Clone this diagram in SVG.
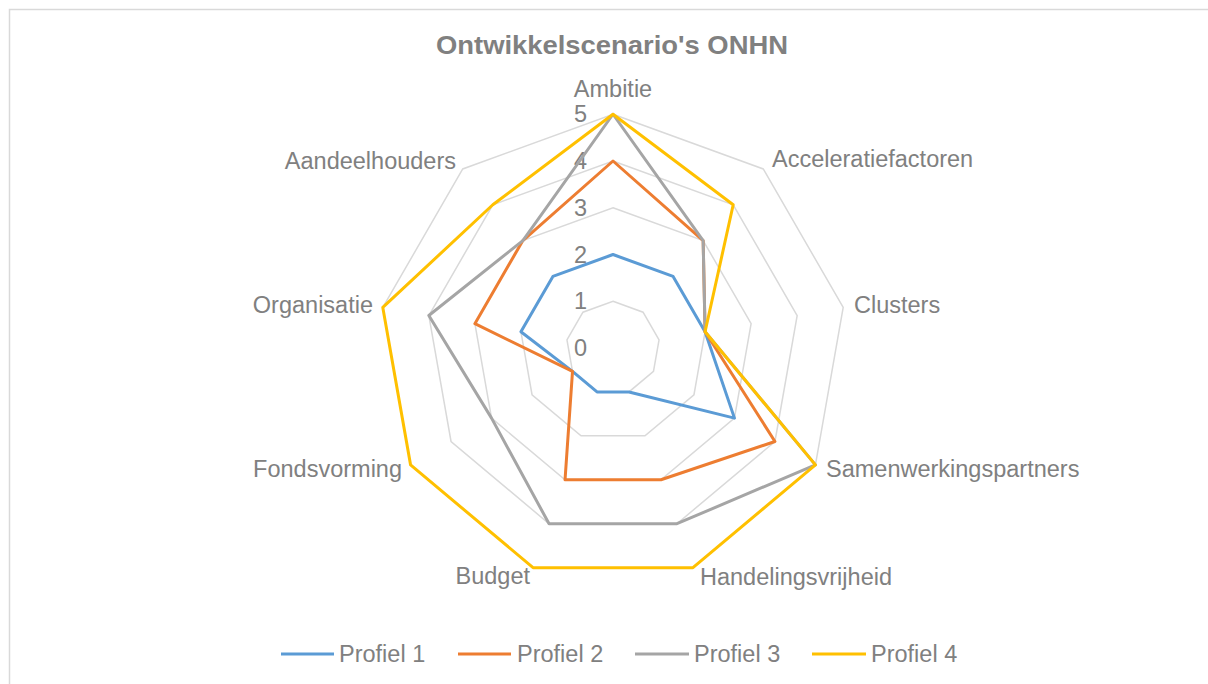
<svg xmlns="http://www.w3.org/2000/svg" width="1208" height="684" viewBox="0 0 1208 684">
<style>
.lbl{font-family:"Liberation Sans",Arial,sans-serif;font-size:23.5px;fill:#808080}
.grid{fill:none;stroke:#d9d9d9;stroke-width:1.5}
.s{fill:none;stroke-width:3;stroke-linejoin:round}
.p1{stroke:#5b9bd5}.p2{stroke:#ed7d31}.p3{stroke:#a5a5a5}.p4{stroke:#ffc000}
</style>
<rect x="0" y="0" width="1208" height="684" fill="#ffffff"/>
<rect x="9.5" y="9.5" width="1300" height="700" fill="#ffffff" stroke="#d9d9d9" stroke-width="1.5"/>
<text x="612" y="54" text-anchor="middle" textLength="352" lengthAdjust="spacingAndGlyphs" style="font-family:'Liberation Sans',Arial,sans-serif;font-size:25px;font-weight:bold;fill:#808080">Ontwikkelscenario's ONHN</text>
<g id="grid">
<polygon class="grid" points="613,301.25 643.05,312.19 659.04,339.88 653.49,371.38 628.99,391.93 597.01,391.93 572.51,371.38 566.96,339.88 582.95,312.19"/>
<polygon class="grid" points="613,254.5 673.1,276.38 705.08,331.76 693.97,394.75 644.98,435.86 581.02,435.86 532.03,394.75 520.92,331.76 552.9,276.38"/>
<polygon class="grid" points="613,207.75 703.15,240.56 751.12,323.65 734.46,418.13 660.97,479.79 565.03,479.79 491.54,418.13 474.88,323.65 522.85,240.56"/>
<polygon class="grid" points="613,161 733.2,204.75 797.16,315.53 774.95,441.5 676.96,523.72 549.04,523.72 451.05,441.5 428.84,315.53 492.8,204.75"/>
<polygon class="grid" points="613,114.25 763.25,168.94 843.2,307.41 815.43,464.88 692.95,567.65 533.05,567.65 410.57,464.88 382.8,307.41 462.75,168.94"/>
</g>
<g id="ticks" class="lbl" text-anchor="end">
<text x="587" y="122.25">5</text>
<text x="587" y="169">4</text>
<text x="587" y="215.75">3</text>
<text x="587" y="262.5">2</text>
<text x="587" y="309.25">1</text>
<text x="587" y="356">0</text>
</g>
<g id="series">
<polygon id="profiel1" class="s p1" points="613,254.5 673.1,276.38 705.08,331.76 734.46,418.13 628.99,391.93 597.01,391.93 572.51,371.38 520.92,331.76 552.9,276.38"/>
<polygon id="profiel2" class="s p2" points="613,161 703.15,240.56 705.08,331.76 774.95,441.5 660.97,479.79 565.03,479.79 572.51,371.38 474.88,323.65 522.85,240.56"/>
<polygon id="profiel3" class="s p3" points="613,114.25 703.15,240.56 705.08,331.76 815.43,464.88 676.96,523.72 549.04,523.72 491.54,418.13 428.84,315.53 522.85,240.56"/>
<polygon id="profiel4" class="s p4" points="613,114.25 733.2,204.75 705.08,331.76 815.43,464.88 692.95,567.65 533.05,567.65 410.57,464.88 382.8,307.41 492.8,204.75"/>
</g>
<g id="axis-labels" class="lbl">
<text x="613" y="97" text-anchor="middle">Ambitie</text>
<text x="772" y="167">Acceleratiefactoren</text>
<text x="854" y="313">Clusters</text>
<text x="826" y="477">Samenwerkingspartners</text>
<text x="892" y="585" text-anchor="end">Handelingsvrijheid</text>
<text x="530" y="584" text-anchor="end">Budget</text>
<text x="402" y="477" text-anchor="end">Fondsvorming</text>
<text x="373" y="313" text-anchor="end">Organisatie</text>
<text x="456" y="169" text-anchor="end">Aandeelhouders</text>
</g>
<g id="legend">
<line class="s p1" x1="281" y1="654" x2="334" y2="654"/>
<text class="lbl" x="339" y="662">Profiel 1</text>
<line class="s p2" x1="458" y1="654" x2="511" y2="654"/>
<text class="lbl" x="517" y="662">Profiel 2</text>
<line class="s p3" x1="635" y1="654" x2="689" y2="654"/>
<text class="lbl" x="694" y="662">Profiel 3</text>
<line class="s p4" x1="812" y1="654" x2="866" y2="654"/>
<text class="lbl" x="871" y="662">Profiel 4</text>
</g>
</svg>
